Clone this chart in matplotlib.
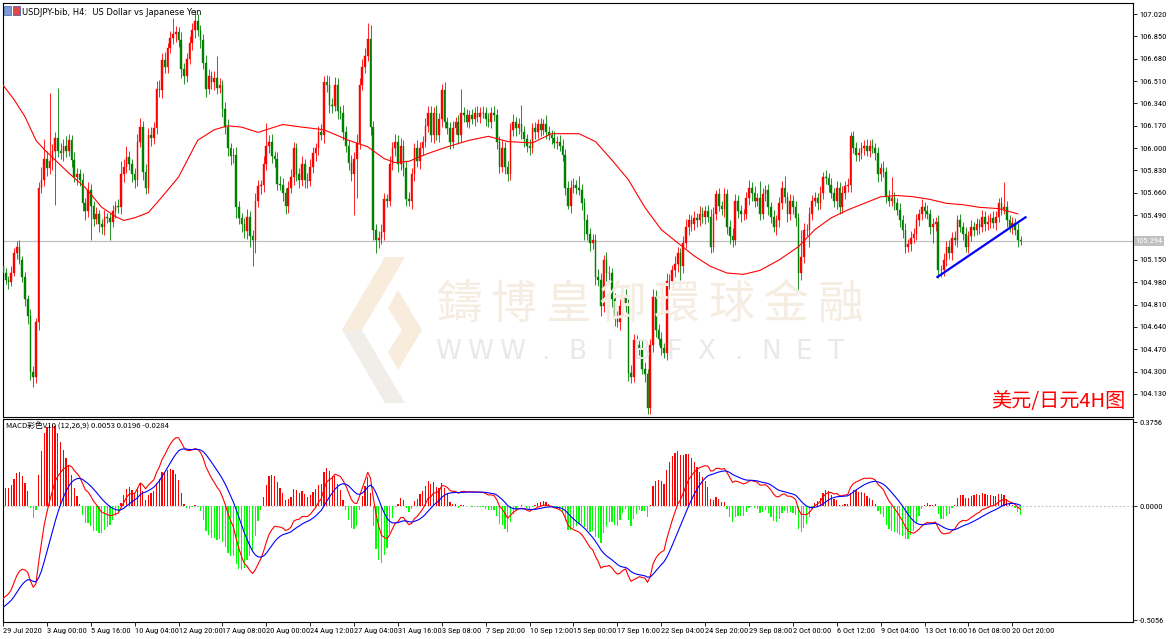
import numpy as np
import matplotlib
matplotlib.use("Agg")
import matplotlib.pyplot as plt
import matplotlib.transforms as mtransforms
from matplotlib import font_manager
from matplotlib.patches import Polygon, Rectangle

# ---- data ----
first_open = 105.10
close = [
    105.05, 105.00, 104.98, 105.05, 105.20, 105.25, 105.15, 105.02, 104.85, 104.72, 104.30, 104.26,
    104.68, 105.70, 105.76, 105.92, 105.85, 105.90, 105.98, 106.08, 105.98, 105.96, 106.02, 105.98,
    106.06, 105.91, 105.78, 105.80, 105.76, 105.58, 105.52, 105.68, 105.56, 105.46, 105.50, 105.42,
    105.40, 105.48, 105.47, 105.44, 105.52, 105.56, 105.55, 105.80, 105.86, 105.93, 105.88, 105.80,
    105.76, 106.05, 106.16, 105.82, 105.70, 106.10, 106.08, 106.15, 106.45, 106.44, 106.67, 106.62,
    106.76, 106.84, 106.87, 106.88, 106.82, 106.60, 106.55, 106.68, 106.80, 106.90, 106.97, 106.90,
    106.82, 106.65, 106.45, 106.55, 106.50, 106.53, 106.46, 106.48, 106.30, 106.16, 106.00, 105.94,
    105.95, 105.55, 105.47, 105.42, 105.37, 105.48, 105.33, 105.30, 105.60, 105.71, 105.72, 105.88,
    106.02, 106.05, 105.94, 105.92, 105.73, 105.72, 105.66, 105.56, 105.70, 105.78, 106.00, 105.80,
    105.76, 105.88, 105.76, 105.75, 105.86, 105.96, 106.00, 106.12, 106.10, 106.50, 106.48, 106.33,
    106.32, 106.48, 106.28, 106.27, 106.12, 106.02, 105.89, 105.80, 105.92, 106.04, 106.48, 106.62,
    106.70, 106.83, 106.16, 105.38, 105.30, 105.32, 105.36, 105.61, 105.60, 105.88, 106.00, 106.05,
    105.88, 106.02, 105.85, 105.61, 105.60, 105.80, 106.00, 105.90, 106.00, 106.05, 106.17, 106.27,
    106.10, 106.27, 106.10, 106.22, 106.44, 106.20, 106.15, 106.05, 106.15, 106.20, 106.10, 106.27,
    106.25, 106.20, 106.25, 106.22, 106.27, 106.24, 106.27, 106.27, 106.22, 106.20, 106.27, 106.25,
    106.05, 105.86, 106.00, 105.86, 105.80, 106.14, 106.20, 106.15, 106.18, 106.12, 106.07, 106.02,
    106.00, 106.15, 106.12, 106.18, 106.14, 106.18, 106.12, 106.10, 106.08, 106.04, 106.05, 106.02,
    105.95, 105.70, 105.56, 105.70, 105.72, 105.70, 105.68, 105.58, 105.45, 105.35, 105.28, 105.30,
    105.02, 105.00, 104.80, 105.15, 105.05, 105.05, 104.85, 104.70, 104.68, 104.80, 104.87, 104.80,
    104.29, 104.26, 104.54, 104.50, 104.48, 104.32, 104.28, 104.02, 104.50, 104.87, 104.62, 104.55,
    104.48, 104.44, 104.99, 104.99, 105.07, 105.12, 105.20, 105.10, 105.28, 105.40, 105.45, 105.42,
    105.47, 105.45, 105.50, 105.48, 105.52, 105.48, 105.25, 105.50, 105.65, 105.56, 105.54, 105.65,
    105.40, 105.33, 105.30, 105.60, 105.52, 105.50, 105.50, 105.62, 105.70, 105.66, 105.60, 105.62,
    105.50, 105.65, 105.68, 105.55, 105.48, 105.40, 105.45, 105.58, 105.70, 105.63, 105.50, 105.60,
    105.55, 105.47, 105.05, 105.17, 105.38, 105.38, 105.50, 105.60, 105.62, 105.58, 105.66, 105.78,
    105.77, 105.72, 105.66, 105.60, 105.70, 105.55, 105.66, 105.71, 105.72, 106.09, 106.00, 105.95,
    105.96, 106.00, 106.02, 105.98, 106.02, 106.00, 105.96, 105.80, 105.85, 105.82, 105.63, 105.60,
    105.62, 105.58, 105.53, 105.45, 105.38, 105.25, 105.27, 105.32, 105.35, 105.45, 105.50, 105.55,
    105.52, 105.50, 105.40, 105.42, 105.44, 105.07, 105.07, 105.15, 105.25, 105.20, 105.32, 105.30,
    105.45, 105.40, 105.35, 105.25, 105.33, 105.40, 105.38, 105.42, 105.40, 105.48, 105.42, 105.44,
    105.47, 105.43, 105.48, 105.58, 105.54, 105.55, 105.45, 105.40, 105.43, 105.38, 105.30, 105.29,
]
wick_up = [
    0.03, 0.04, 0.03, 0.05, 0.04, 0.04, 0.05, 0.03, 0.04, 0.03, 0.06, 0.04,
    0.03, 0.04, 0.10, 0.15, 0.06, 0.52, 0.05, 0.04, 0.38, 0.06, 0.05, 0.07,
    0.05, 0.04, 0.06, 0.05, 0.04, 0.05, 0.04, 0.06, 0.05, 0.04, 0.05, 0.03,
    0.04, 0.05, 0.03, 0.04, 0.05, 0.04, 0.05, 0.10, 0.06, 0.09, 0.05, 0.04,
    0.05, 0.06, 0.07, 0.05, 0.06, 0.05, 0.06, 0.05, 0.06, 0.07, 0.05, 0.06,
    0.04, 0.05, 0.12, 0.05, 0.04, 0.06, 0.05, 0.04, 0.05, 0.05, 0.08, 0.05,
    0.04, 0.05, 0.06, 0.05, 0.04, 0.06, 0.17, 0.05, 0.04, 0.05, 0.06, 0.04,
    0.05, 0.06, 0.05, 0.04, 0.05, 0.06, 0.04, 0.05, 0.06, 0.05, 0.04, 0.06,
    0.17, 0.05, 0.06, 0.04, 0.05, 0.06, 0.05, 0.04, 0.05, 0.06, 0.05, 0.04,
    0.05, 0.06, 0.04, 0.05, 0.06, 0.05, 0.04, 0.05, 0.06, 0.05, 0.06, 0.07,
    0.05, 0.06, 0.05, 0.04, 0.06, 0.05, 0.04, 0.06, 0.05, 0.07, 0.05, 0.06,
    0.06, 0.12, 0.11, 0.05, 0.04, 0.05, 0.06, 0.05, 0.04, 0.06, 0.05, 0.06,
    0.05, 0.06, 0.04, 0.05, 0.06, 0.05, 0.04, 0.06, 0.05, 0.04, 0.06, 0.05,
    0.05, 0.04, 0.06, 0.05, 0.05, 0.06, 0.04, 0.05, 0.06, 0.04, 0.05, 0.18,
    0.04, 0.05, 0.04, 0.05, 0.04, 0.05, 0.04, 0.05, 0.04, 0.05, 0.04, 0.05,
    0.05, 0.04, 0.06, 0.05, 0.04, 0.05, 0.06, 0.04, 0.05, 0.15, 0.05, 0.04,
    0.05, 0.04, 0.05, 0.04, 0.05, 0.04, 0.07, 0.05, 0.04, 0.05, 0.04, 0.05,
    0.05, 0.04, 0.05, 0.06, 0.05, 0.04, 0.09, 0.05, 0.04, 0.05, 0.04, 0.05,
    0.05, 0.06, 0.05, 0.04, 0.06, 0.05, 0.04, 0.05, 0.06, 0.05, 0.04, 0.06,
    0.05, 0.06, 0.05, 0.04, 0.05, 0.06, 0.05, 0.04, 0.05, 0.06, 0.05, 0.04,
    0.05, 0.04, 0.06, 0.05, 0.04, 0.06, 0.05, 0.04, 0.05, 0.06, 0.05, 0.04,
    0.05, 0.04, 0.06, 0.05, 0.04, 0.05, 0.06, 0.05, 0.03, 0.05, 0.04, 0.05,
    0.04, 0.05, 0.06, 0.05, 0.04, 0.05, 0.04, 0.05, 0.06, 0.04, 0.05, 0.04,
    0.13, 0.05, 0.04, 0.05, 0.04, 0.05, 0.04, 0.05, 0.05, 0.09, 0.04, 0.05,
    0.04, 0.05, 0.04, 0.21, 0.05, 0.04, 0.05, 0.04, 0.05, 0.04, 0.05, 0.04,
    0.05, 0.04, 0.05, 0.04, 0.05, 0.04, 0.05, 0.04, 0.05, 0.03, 0.04, 0.05,
    0.04, 0.05, 0.04, 0.05, 0.04, 0.05, 0.04, 0.05, 0.04, 0.05, 0.04, 0.05,
    0.16, 0.05, 0.04, 0.05, 0.04, 0.05, 0.04, 0.05, 0.04, 0.05, 0.04, 0.06,
    0.04, 0.05, 0.04, 0.05, 0.04, 0.05, 0.04, 0.05, 0.04, 0.05, 0.04, 0.05,
    0.04, 0.05, 0.04, 0.05, 0.04, 0.05, 0.04, 0.05, 0.04, 0.05, 0.04, 0.05,
    0.04, 0.05, 0.04, 0.04, 0.05, 0.19, 0.05, 0.04, 0.05, 0.04, 0.05, 0.03,
]
wick_dn = [
    0.04, 0.03, 0.05, 0.03, 0.02, 0.04, 0.03, 0.04, 0.05, 0.06, 0.06, 0.08,
    0.05, 0.06, 0.04, 0.05, 0.06, 0.05, 0.07, 0.41, 0.05, 0.04, 0.06, 0.05,
    0.04, 0.05, 0.04, 0.06, 0.05, 0.06, 0.07, 0.04, 0.26, 0.05, 0.04, 0.06,
    0.05, 0.06, 0.04, 0.14, 0.04, 0.05, 0.04, 0.05, 0.06, 0.05, 0.05, 0.06,
    0.06, 0.05, 0.04, 0.06, 0.05, 0.04, 0.06, 0.05, 0.04, 0.05, 0.06, 0.05,
    0.05, 0.04, 0.05, 0.06, 0.05, 0.07, 0.06, 0.05, 0.04, 0.05, 0.06, 0.05,
    0.06, 0.05, 0.06, 0.04, 0.05, 0.06, 0.05, 0.04, 0.06, 0.05, 0.06, 0.07,
    0.05, 0.08, 0.05, 0.06, 0.05, 0.06, 0.08, 0.20, 0.10, 0.05, 0.06, 0.05,
    0.05, 0.06, 0.05, 0.06, 0.05, 0.04, 0.06, 0.06, 0.05, 0.04, 0.06, 0.05,
    0.06, 0.05, 0.06, 0.05, 0.04, 0.05, 0.06, 0.05, 0.04, 0.06, 0.05, 0.06,
    0.05, 0.04, 0.06, 0.05, 0.06, 0.05, 0.06, 0.05, 0.31, 0.30, 0.05, 0.04,
    0.05, 0.04, 0.06, 0.08, 0.10, 0.06, 0.05, 0.06, 0.05, 0.04, 0.05, 0.06,
    0.06, 0.05, 0.06, 0.05, 0.04, 0.06, 0.05, 0.04, 0.06, 0.05, 0.04, 0.05,
    0.05, 0.06, 0.04, 0.05, 0.06, 0.05, 0.04, 0.06, 0.05, 0.04, 0.06, 0.05,
    0.05, 0.04, 0.05, 0.04, 0.05, 0.04, 0.05, 0.04, 0.05, 0.04, 0.05, 0.04,
    0.06, 0.05, 0.04, 0.06, 0.05, 0.04, 0.05, 0.06, 0.04, 0.05, 0.06, 0.05,
    0.05, 0.04, 0.05, 0.04, 0.05, 0.04, 0.05, 0.04, 0.05, 0.04, 0.05, 0.04,
    0.05, 0.06, 0.02, 0.05, 0.04, 0.05, 0.04, 0.05, 0.15, 0.05, 0.06, 0.05,
    0.06, 0.05, 0.08, 0.05, 0.06, 0.05, 0.06, 0.05, 0.04, 0.06, 0.05, 0.05,
    0.06, 0.05, 0.04, 0.06, 0.05, 0.04, 0.06, 0.04, 0.04, 0.05, 0.06, 0.05,
    0.05, 0.04, 0.05, 0.06, 0.04, 0.05, 0.06, 0.10, 0.05, 0.04, 0.06, 0.05,
    0.04, 0.05, 0.04, 0.05, 0.06, 0.04, 0.05, 0.04, 0.05, 0.04, 0.05, 0.06,
    0.05, 0.06, 0.05, 0.04, 0.05, 0.06, 0.05, 0.04, 0.05, 0.06, 0.05, 0.04,
    0.05, 0.04, 0.05, 0.06, 0.05, 0.04, 0.06, 0.05, 0.04, 0.05, 0.06, 0.05,
    0.05, 0.06, 0.13, 0.05, 0.04, 0.05, 0.13, 0.05, 0.04, 0.05, 0.04, 0.05,
    0.04, 0.05, 0.04, 0.05, 0.06, 0.05, 0.04, 0.05, 0.04, 0.05, 0.04, 0.05,
    0.05, 0.04, 0.05, 0.04, 0.05, 0.04, 0.05, 0.06, 0.05, 0.04, 0.05, 0.04,
    0.04, 0.05, 0.04, 0.05, 0.06, 0.05, 0.04, 0.05, 0.04, 0.05, 0.04, 0.05,
    0.05, 0.04, 0.05, 0.12, 0.05, 0.06, 0.05, 0.04, 0.05, 0.04, 0.05, 0.04,
    0.05, 0.04, 0.05, 0.04, 0.05, 0.04, 0.05, 0.04, 0.05, 0.04, 0.05, 0.04,
    0.05, 0.04, 0.05, 0.04, 0.05, 0.04, 0.05, 0.04, 0.05, 0.04, 0.05, 0.03,
]

# red moving average, read at sample bars
ma_bars = [0, 4, 8, 12, 15, 18, 24, 30, 36, 41, 44, 48, 53, 58, 64, 71, 77, 82, 87, 93, 102, 109,
           117, 126, 133, 139, 143, 148, 155, 162, 170, 177, 184, 193, 200, 210, 216, 222, 228,
           234, 240, 246, 252, 258, 264, 270, 276, 283, 290, 296, 302, 308, 314, 320, 326, 332,
           338, 344, 350, 356, 363, 370]
ma_vals = [106.48, 106.37, 106.24, 106.06, 105.99, 105.93, 105.81, 105.70, 105.55, 105.48, 105.45,
           105.47, 105.51, 105.63, 105.78, 106.06, 106.14, 106.17, 106.16, 106.12, 106.18, 106.16,
           106.14, 106.06, 106.01, 105.92, 105.89, 105.90, 105.96, 106.01, 106.06, 106.09, 106.05,
           106.04, 106.11, 106.11, 106.05, 105.91, 105.76, 105.55, 105.38, 105.28, 105.18, 105.10,
           105.05, 105.04, 105.07, 105.15, 105.25, 105.38, 105.47, 105.53, 105.58, 105.63, 105.64,
           105.63, 105.61, 105.58, 105.57, 105.55, 105.54, 105.50]

trend_bars = [340.7, 372.8]
trend_vals = [105.02, 105.474]
bid = 105.294
macd_shown = [0.0053, 0.0196, -0.0284]   # values printed in the indicator caption

# MACD(12,26,9) state just before the first visible bar
ema12_start = 105.30
ema26_start = 105.72
dea_start = -0.46

price_ticks = [104.130, 104.300, 104.470, 104.640, 104.810, 104.980, 105.150, 105.320, 105.490,
               105.660, 105.830, 106.000, 106.170, 106.340, 106.510, 106.680, 106.850, 107.020]
macd_ticks = [0.3756, 0.0, -0.5056]
date_ticks = [0, 16, 32, 48, 64, 80, 96, 112, 128, 144, 160, 176, 192, 208, 224, 240, 256, 272,
              288, 304, 320, 336, 352, 368]
date_labels = ["29 Jul 2020", "3 Aug 00:00", "5 Aug 16:00", "10 Aug 04:00", "12 Aug 20:00",
               "17 Aug 08:00", "20 Aug 00:00", "24 Aug 12:00", "27 Aug 04:00", "31 Aug 16:00",
               "3 Sep 08:00", "7 Sep 20:00", "10 Sep 12:00", "15 Sep 00:00", "17 Sep 16:00",
               "22 Sep 04:00", "24 Sep 20:00", "29 Sep 08:00", "2 Oct 00:00", "6 Oct 12:00",
               "9 Oct 04:00", "13 Oct 16:00", "16 Oct 08:00", "20 Oct 20:00"]

# ---- derived ----
c = np.array(close)
o = np.concatenate([[first_open], c[:-1]])
hi = np.maximum(o, c) + np.array(wick_up)
lo = np.minimum(o, c) - np.array(wick_dn)
x = np.arange(len(c))


def ema(vals, start, n):
    a = 2.0 / (n + 1)
    e = start
    out = []
    for v in vals:
        e = e + a * (v - e)
        out.append(e)
    return np.array(out)


dif = ema(c, ema12_start, 12) - ema(c, ema26_start, 26)
dea = ema(dif, dea_start, 9)
hist = 2 * (dif - dea)

# narrow font for the axis numbers, like the terminal's
installed = {f.name for f in font_manager.fontManager.ttflist}
small_font = "DejaVu Sans"
small_size = 5.2
for name, size in [("Liberation Sans Narrow", 6.3), ("Roboto Condensed", 6.0),
                   ("Open Sans Condensed", 6.0), ("Liberation Sans", 5.6)]:
    if name in installed:
        small_font, small_size = name, size
        break

# ---- figure ----
W, H = 1170, 639
fig = plt.figure(figsize=(W / 100, H / 100), dpi=100)


def box(x0, y0, x1, y1):
    return [x0 / W, 1 - y1 / H, (x1 - x0) / W, (y1 - y0) / H]


ax = fig.add_axes(box(3, 3, 1133, 417))
ax2 = fig.add_axes(box(3, 419, 1133, 622), sharex=ax)

UP, DN = "#ff0000", "#008000"
cols = [UP if cc >= oo else DN for oo, cc in zip(o, c)]

# watermark
for k, ch in enumerate("鑄博皇御環球金融"):
    fig.text((459 + 54.5 * k) / W, 1 - 305 / H, ch, fontsize=33, color="#f6ede2",
             family=["Noto Sans CJK TC", "DejaVu Sans"], ha="center", va="center", zorder=0)
for k, ch in enumerate("WWW.BIBFX.NET"):
    fig.text((448 + 32.3 * k) / W, 1 - 352 / H, ch, fontsize=19, color="#e9e9e9",
             ha="center", va="center", zorder=0)
logo = [
    ([(385, 257), (405, 257), (362, 330), (342, 330)], "#f8ecdd"),
    ([(342, 330), (362, 330), (405, 403), (385, 403)], "#f1eeea"),
    ([(398, 290), (422, 330), (398, 370), (388, 352), (402, 330), (388, 308)], "#f8ecdd"),
]
for pts, col in logo:
    fig.patches.append(Polygon([(px / W, 1 - py / H) for px, py in pts], closed=True,
                               transform=fig.transFigure, facecolor=col, edgecolor="none",
                               zorder=0))
ax.patch.set_alpha(0)
ax2.patch.set_alpha(0)

# price panel
ax.axhline(bid, color="#c0c0c0", lw=0.9, zorder=1)
ax.vlines(x, lo, hi, colors=cols, linewidth=0.6, zorder=2)
ax.bar(x, np.abs(c - o), bottom=np.minimum(o, c), width=0.6, color=cols, edgecolor=cols,
       linewidth=0.3, zorder=3)
ax.plot(ma_bars, ma_vals, color="#ff0000", lw=0.8, zorder=4)
ax.plot(trend_bars, trend_vals, color="#0000ff", lw=1.6, zorder=5)

ax.set_xlim(0.5, 412)
ax.set_ylim(103.955, 107.104)
ax.yaxis.tick_right()
ax.set_yticks(price_ticks)
# the tick next to the bid price is hidden behind the bid box, as in the terminal
ax.set_yticklabels(["" if abs(t - bid) < 0.05 else "%.3f" % t for t in price_ticks],
                   family=small_font)
ax.tick_params(axis="y", direction="out", length=3, labelsize=small_size, pad=1.5, width=0.6)
ax.tick_params(axis="x", bottom=False, labelbottom=False)
ax.text(1.002, bid, "%.3f" % bid,
        transform=mtransforms.blended_transform_factory(ax.transAxes, ax.transData),
        fontsize=small_size, family=small_font, color="white", va="center", ha="left",
        bbox=dict(boxstyle="square,pad=0.2", fc="#c0c0c0", ec="none"), zorder=6)

ax.text(0.017, 0.988, "USDJPY-bib, H4:  US Dollar vs Japanese Yen", transform=ax.transAxes,
        fontsize=6, va="top", ha="left")
fig.patches.append(Rectangle((4 / W, 1 - 15 / H), 7 / W, 9 / H, transform=fig.transFigure,
                             fc="#7d9ad6", ec="#4060a0", lw=0.5))
fig.patches.append(Rectangle((13 / W, 1 - 15 / H), 7 / W, 9 / H, transform=fig.transFigure,
                             fc="#e04848", ec="#3050b0", lw=0.5))
ax.text(0.993, 0.012, "美元/日元4H图", transform=ax.transAxes, fontsize=14.5, color="#ff0000",
        family=["Noto Sans CJK SC", "DejaVu Sans"], ha="right", va="bottom")

# MACD panel
ax2.axhline(0, color="#c0c0c0", ls=(0, (1.5, 2)), lw=0.8, zorder=1)
ax2.bar(x, hist, width=0.45, color=[UP if h >= 0 else "#00ff00" for h in hist], linewidth=0,
        zorder=2)
ax2.plot(x, dif, color="#ff0000", lw=0.8, zorder=3)
ax2.plot(x, dea, color="#0000ff", lw=0.8, zorder=3)
ax2.set_ylim(-0.5145, 0.389)
ax2.yaxis.tick_right()
ax2.set_yticks(macd_ticks)
ax2.set_yticklabels(["%.4f" % t for t in macd_ticks], family=small_font)
ax2.tick_params(axis="y", direction="out", length=3, labelsize=small_size, pad=1.5, width=0.6)
ax2.set_xticks(date_ticks)
ax2.set_xticklabels(date_labels, family=small_font)
ax2.tick_params(axis="x", direction="out", length=3, labelsize=small_size, pad=1, width=0.6)
for lab in ax2.get_xticklabels():
    lab.set_horizontalalignment("left")
ax2.text(0.003, 0.985, "MACD彩色V10 (12,26,9) %.4f %.4f %.4f" % tuple(macd_shown),
         transform=ax2.transAxes, fontsize=5.6, va="top", ha="left",
         family=["Noto Sans CJK SC", "DejaVu Sans"])

for a in (ax, ax2):
    for s in a.spines.values():
        s.set_color("black")
        s.set_linewidth(0.8)

fig.savefig("out.png", dpi=100, facecolor="white")
